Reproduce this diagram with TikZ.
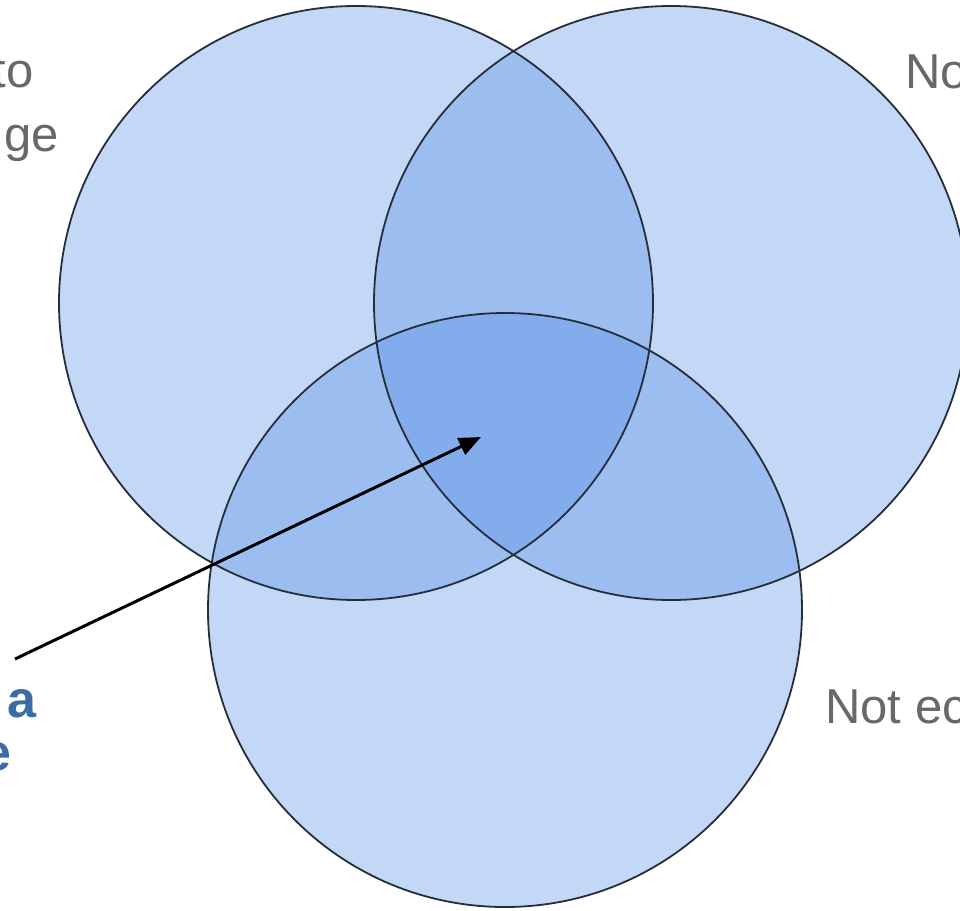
\documentclass[tikz,border=0pt]{standalone}
\usepackage{fontspec}
\setmainfont{Liberation Sans}
\usetikzlibrary{arrows.meta}
\definecolor{vfill}{RGB}{82,140,229}
\definecolor{vline}{RGB}{38,46,58}
\definecolor{graytxt}{RGB}{104,104,104}
\definecolor{bluetxt}{RGB}{58,108,168}
\begin{document}
\begin{tikzpicture}[x=1pt,y=-1pt,
  vennfill/.style={circle,minimum size=594pt,inner sep=0pt,fill=vfill,fill opacity=0.34},
  vennline/.style={draw=vline,line width=1.8pt},
  graylabel/.style={text=graytxt,inner sep=0pt,font=\fontsize{49}{58}\selectfont},
  bluelabel/.style={text=bluetxt,inner sep=0pt,font=\fontsize{52}{60}\selectfont\bfseries},
  pointer/.style={draw=black,line width=3pt,-{Triangle[length=22pt,width=18pt]}}]
\useasboundingbox (0,0) rectangle (960,910);
\fill[white] (0,0) rectangle (960,910);
\node[vennfill] (L) at (356,303) {};
\node[vennfill] (R) at (671,303) {};
\node[vennfill] (B) at (505,610) {};
\draw[vennline] (L.center) circle [radius=297pt];
\draw[vennline] (R.center) circle [radius=297pt];
\draw[vennline] (B.center) circle [radius=297pt];
\node[graylabel,anchor=base east] (t1) at (34,87) {to};
\node[graylabel,anchor=base east] (t2) at (59,151) {ge};
\node[graylabel,anchor=base west] (t3) at (905,88) {No};
\node[graylabel,anchor=base west] (t4) at (825,723) {Not ec};
\node[bluelabel,anchor=base east] (b1) at (37,717) {a};
\node[bluelabel,anchor=base east] (b2) at (12,770) {e};
\coordinate (s) at (15,659);
\coordinate (t) at (481,437);
\draw[pointer] (s) -- (t);
\end{tikzpicture}
\end{document}
